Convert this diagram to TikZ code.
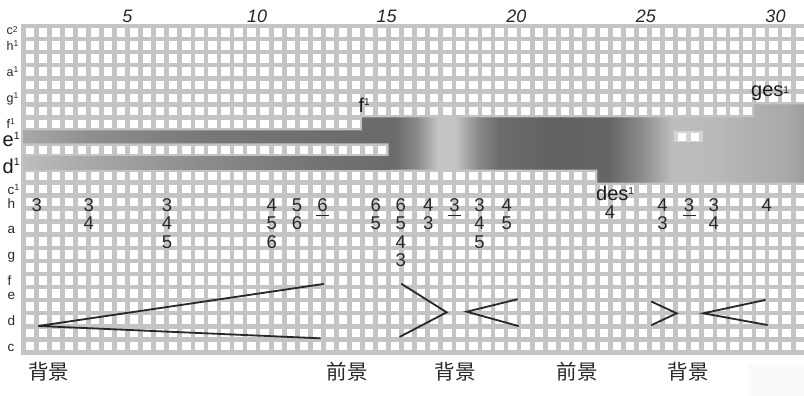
\documentclass[tikz,border=0pt]{standalone}
\usepackage{fontspec}
\setmainfont{Liberation Sans}
\newfontfamily\cjkfont{Noto Sans CJK SC}
\usetikzlibrary{calc}
\definecolor{gridgray}{RGB}{196,196,196}
\definecolor{ink}{RGB}{40,40,40}
\newcommand{\upx}[3]{\raisebox{#2pt}{\fontsize{#1}{#1}\selectfont #3}}
\begin{document}
\begin{tikzpicture}[x=1pt,y=-1pt,
  rowsmall/.style={anchor=base west, inner sep=0, font=\fontsize{12.5}{13}\selectfont, text=ink},
  rowlow/.style={anchor=base west, inner sep=0, font=\fontsize{13.5}{14}\selectfont, text=ink},
  rowbig/.style={anchor=base west, inner sep=0, font=\fontsize{20}{20}\selectfont, text=black!90},
  beatnum/.style={anchor=base, inner sep=0, font=\fontsize{18}{18}\selectfont\itshape, text=ink},
  fing/.style={anchor=center, inner sep=0, font=\fontsize{18.5}{19}\selectfont, text=ink},
  pitchlab/.style={anchor=base west, inner sep=0, font=\fontsize{20}{20}\selectfont, text=black!90},
  zh/.style={anchor=center, inner sep=0, font=\cjkfont\fontsize{20.5}{21}\selectfont, text=ink},
  hair/.style={draw=ink, line width=1.8pt, line cap=round},
  uline/.style={draw=ink, line width=1.4pt},
  gridline/.style={draw=gridgray, line width=4.7pt},
]
\useasboundingbox (0,0) rectangle (804,396);
\clip (0,0) rectangle (804,396);
\fill[white] (0,0) rectangle (804,396);
\fill[black!2] (748,365) rectangle (804,396);

% grid
\foreach \k in {0,...,60}
  \draw[gridline] ({23.2+13.05*\k},23.6) -- ({23.2+13.05*\k},354.6);
\foreach \r in {0,...,25}
  \draw[gridline] (20.8,{26+13.05*\r}) -- (808,{26+13.05*\r});

% upper / main band
\begin{scope}
  \clip (23.2,130.4) -- (362.5,130.4) -- (362.5,117.3) -- (754,117.3) -- (754,104.3)
     -- (808,104.3) -- (808,182.6) -- (597.4,182.6) -- (597.4,169.5) -- (388.6,169.5)
     -- (388.6,143.4) -- (23.2,143.4) -- cycle;
  \foreach \xa/\xb/\ca/\cb in {23.2/90/34/44, 90/200/44/53, 200/362.5/53/58, 362.5/395/58/58,
      395/418/58/45, 418/438/45/23, 438/455/23/23, 455/478/23/46, 478/500/46/58,
      500/560/58/62, 560/610/62/60, 610/640/60/46, 640/672/46/26, 672/710/26/27,
      710/754/27/31, 754/790/31/34, 790/808/34/40}
    \shade[left color=black!\ca, right color=black!\cb] (\xa-0.4,100) rectangle (\xb+0.4,190);
\end{scope}
% lower d1 band
\begin{scope}
  \clip (23.2,156.5) rectangle (390,169.5);
  \foreach \xa/\xb/\ca/\cb in {23.2/70/26/32, 70/200/32/45, 200/320/45/55, 320/390/55/58}
    \shade[left color=black!\ca, right color=black!\cb] (\xa-0.4,150) rectangle (\xb+0.4,175);
\end{scope}
% two light cells inside the band
\fill[black!17] ({23.2+13.05*50-1.5},131.4) rectangle ({23.2+13.05*52+1.5},142.4);
\foreach \k in {50,51}
  \fill[white] ({23.2+13.05*(\k+0.5)-3.8},133.1) rectangle ({23.2+13.05*(\k+0.5)+3.8},140.7);

% row labels
\node[rowsmall] (lc2) at (6.5,35) {c\upx{8.5}{2.3}{2}};
\node[rowsmall] (lh1) at (6.5,50.1) {h\upx{8.5}{3.8}{1}};
\node[rowsmall] (la1) at (6.5,76.2) {a\upx{8.5}{3.8}{1}};
\node[rowsmall] (lg1) at (6.5,102.3) {g\upx{8.5}{3.8}{1}};
\node[rowsmall] (lf1) at (6.5,128.4) {f\upx{8.5}{3.8}{1}};
\node[rowbig] (le1) at (2.5,146.7) {e\upx{10.5}{7}{1}};
\node[rowbig] (ld1) at (2.5,173.3) {d\upx{10.5}{8}{1}};
\node[rowlow] (lc1) at (7.5,194.4) {c\upx{9}{4}{1}};
\node[rowlow] (lh) at (7.5,208.3) {h};
\node[rowlow] (la) at (7.5,233.7) {a};
\node[rowlow] (lg) at (7.5,259.8) {g};
\node[rowlow] (lf) at (7.5,285.9) {f};
\node[rowlow] (le) at (7.5,299) {e};
\node[rowlow] (ld) at (7.5,325.1) {d};
\node[rowlow] (lc) at (7.5,351.2) {c};

% beat numbers
\foreach \n [count=\i from 0] in {5,10,15,20,25,30}
  \node[beatnum] (b\n) at ({127.5+129.6*\i},23) {\n};

% pitch labels
\node[pitchlab] (pf1) at (358.3,113) {f\upx{10}{7}{1}};
\node[pitchlab] (pges1) at (751,97) {ges\upx{10}{4}{1}};
\node[pitchlab] (pdes1) at (596,200.3) {des\upx{10}{6}{1}};

% fingering numbers
\foreach \nm/\x/\y/\t in {
  n1/36.7/205/3,
  n2a/88.7/205/3, n2b/88.7/223.5/4,
  n3a/167/205/3, n3b/167/223.5/4, n3c/167/242/5,
  n4a/271.7/205/4, n4b/271.7/223.5/5, n4c/271.7/242/6,
  n5a/297/205/5, n5b/297/223.5/6,
  n6/322.5/205/6,
  n7a/375.8/205/6, n7b/375.8/223.5/5,
  n8a/400.8/205/6, n8b/400.8/223.5/5, n8c/400.8/242/4, n8d/400.8/260.5/3,
  n9a/428.3/205/4, n9b/428.3/223.5/3,
  n10/454.5/205/3,
  n11a/479.5/205/3, n11b/479.5/223.5/4, n11c/479.5/242/5,
  n12a/506.7/205/4, n12b/506.7/223.5/5,
  n13/610/212.5/4,
  n14a/662.5/205/4, n14b/662.5/223.5/3,
  n15/689/205/3,
  n16a/713.8/205/3, n16b/713.8/223.5/4,
  n17/766.7/205/4}
  \node[fing] (\nm) at (\x,\y) {\t};
\foreach \nm in {n6,n10,n15}
  \draw[uline] ([xshift=-6.5pt,yshift=-4pt]\nm.south) -- ([xshift=6.5pt,yshift=-4pt]\nm.south);

% hairpins
\coordinate (h1apex) at (38.3,326);
\coordinate (h1up) at (323.3,284);
\coordinate (h1lo) at (320,338.3);
\draw[hair] (h1up) -- (h1apex) -- (h1lo);
\coordinate (h2up) at (401.7,284);
\coordinate (h2apex) at (446.7,312.3);
\coordinate (h2lo) at (400,336.7);
\draw[hair] (h2up) -- (h2apex) -- (h2lo);
\coordinate (h3up) at (517.3,299.3);
\coordinate (h3apex) at (466.7,311.7);
\coordinate (h3lo) at (518.3,326);
\draw[hair] (h3up) -- (h3apex) -- (h3lo);
\coordinate (h4up) at (651.7,301.7);
\coordinate (h4apex) at (676.7,313.3);
\coordinate (h4lo) at (651.7,325);
\draw[hair] (h4up) -- (h4apex) -- (h4lo);
\coordinate (h5up) at (765,300);
\coordinate (h5apex) at (703.3,313.3);
\coordinate (h5lo) at (767.3,325);
\draw[hair] (h5up) -- (h5apex) -- (h5lo);

% Chinese labels
\node[zh] (z1) at (48.8,371.5) {背景};
\node[zh] (z2) at (347,371.5) {前景};
\node[zh] (z3) at (455,371.5) {背景};
\node[zh] (z4) at (577,371.5) {前景};
\node[zh] (z5) at (688,371.5) {背景};
\end{tikzpicture}
\end{document}
